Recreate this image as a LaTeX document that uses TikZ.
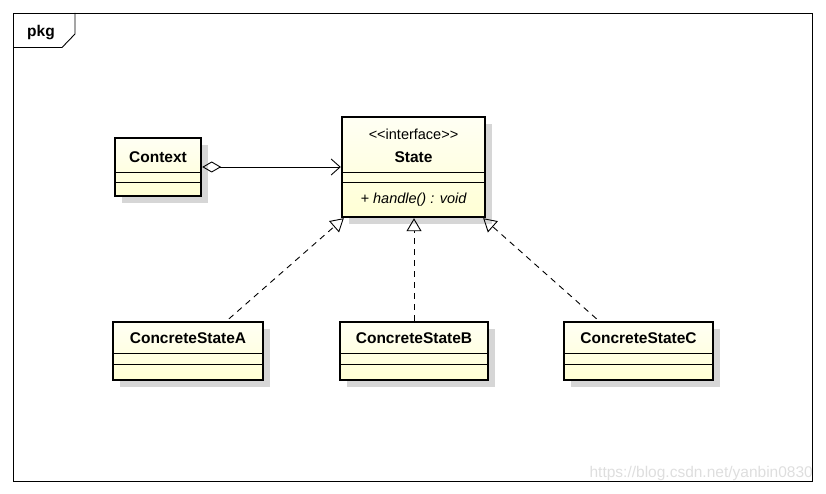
\documentclass[tikz,border=0pt]{standalone}
\usepackage{fontspec}
\setmainfont{Liberation Sans}
\usetikzlibrary{arrows.meta,shadows,calc}
\definecolor{boxlo}{RGB}{255,255,212}
\definecolor{boxhi}{RGB}{255,255,244}
\definecolor{shadowgray}{RGB}{214,214,214}
\definecolor{wmgray}{RGB}{222,222,222}
\tikzset{
  clsbox/.style={draw=black, line width=2.4pt, rectangle, inner sep=0pt,
    top color=boxhi, bottom color=boxlo,
    drop shadow={shadow xshift=7pt, shadow yshift=-7pt, fill=shadowgray, opacity=1}},
  sep/.style={line width=0.9pt},
  nametext/.style={font=\fontsize{15.5}{17}\selectfont\bfseries, inner sep=0pt},
  plaintext/.style={font=\fontsize{14.5}{16}\selectfont, inner sep=0pt},
  conn/.style={line width=0.9pt},
  realize/.style={conn, dash pattern=on 6pt off 5pt, -{Triangle[open,length=13pt,width=15pt,line width=0.9pt]}},
}
\begin{document}
\begin{tikzpicture}[x=1pt,y=-1pt]
\useasboundingbox (0,0) rectangle (826,494);
% frame
\draw[line width=0.9pt] (13,13) rectangle (812,481);
\draw[line width=0.9pt] (75,13) -- (75,34) -- (62,47.5) -- (13,47.5);
\node[nametext] (pkg) at (41,33) {pkg};

% Context
\node[clsbox, minimum width=86pt, minimum height=58pt] (ctx) at (158,167) {};
\draw[sep] (115,172) -- (201,172);
\draw[sep] (115,182) -- (201,182);
\node[nametext] (ctxname) at (158,157) {Context};

% State
\node[clsbox, minimum width=143pt, minimum height=100pt] (state) at (413.5,167) {};
\draw[sep] (342,172) -- (485,172);
\draw[sep] (342,182) -- (485,182);
\node[plaintext] (stereo) at (413.5,134.5) {<{}<interface>{}>};
\node[nametext] (statename) at (413.5,157) {State};
\node[plaintext] (handle) at (413.5,200) {\itshape + handle() : void};

% Concrete states
\node[clsbox, minimum width=150pt, minimum height=58pt] (ca) at (188,351) {};
\draw[sep] (113,353) -- (263,353);
\draw[sep] (113,364) -- (263,364);
\node[nametext] (caname) at (188,338) {ConcreteStateA};

\node[clsbox, minimum width=148pt, minimum height=58pt] (cb) at (414,351) {};
\draw[sep] (340,353) -- (488,353);
\draw[sep] (340,364) -- (488,364);
\node[nametext] (cbname) at (414,338) {ConcreteStateB};

\node[clsbox, minimum width=149pt, minimum height=58pt] (cc) at (638.5,351) {};
\draw[sep] (564,353) -- (713,353);
\draw[sep] (564,364) -- (713,364);
\node[nametext] (ccname) at (638.5,338) {ConcreteStateC};

% aggregation
\draw[conn, {Diamond[open,length=19pt,width=11pt,line width=0.9pt]}-{Straight Barb[length=9pt,width=16pt,line width=0.9pt]}] (ctx.east) -- (state.west);

% realizations
\coordinate (caTop) at ($(ca.north)+(41,-2)$);
\coordinate (ccTop) at ($(cc.north)+(-42,-2)$);
\coordinate (stL) at ($(state.south west)+(3,0)$);
\coordinate (stR) at ($(state.south east)+(-3,0)$);
\draw[realize] (caTop) -- (stL);
\draw[realize] (cb.north) -- (cb.north |- state.south);
\draw[realize] (ccTop) -- (stR);

% watermark
\node[font=\fontsize{15.5}{17}\selectfont, text=wmgray, inner sep=0pt, anchor=east] (wm) at (813,473) {https://blog.csdn.net/yanbin0830};
\end{tikzpicture}
\end{document}
